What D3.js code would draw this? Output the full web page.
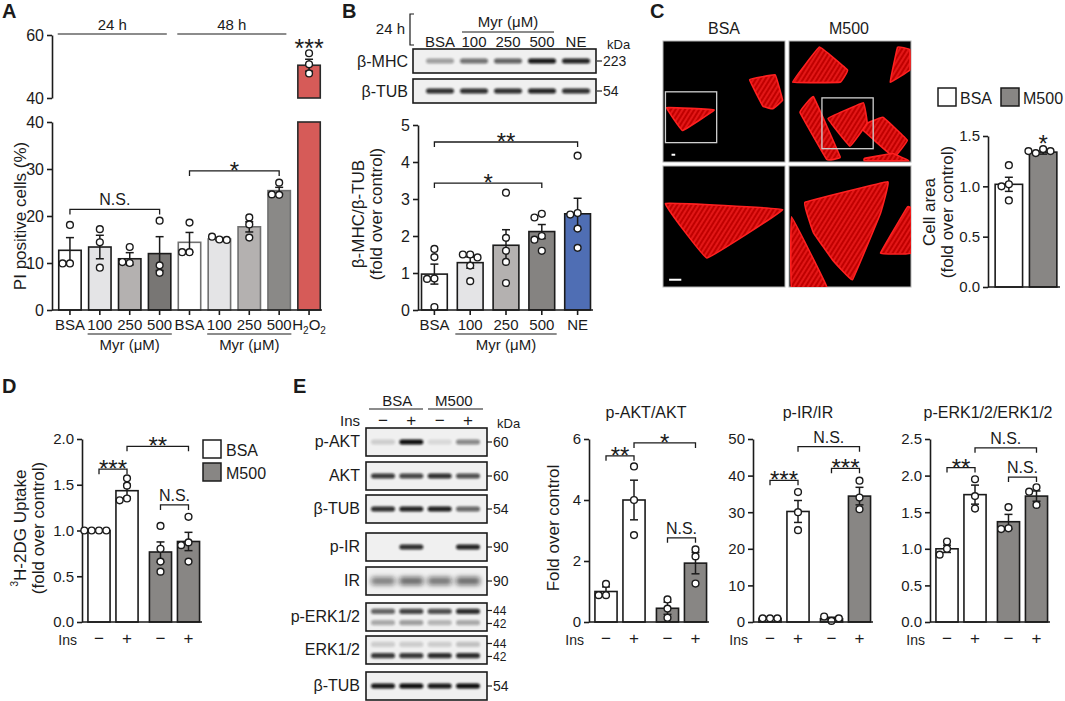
<!DOCTYPE html>
<html>
<head>
<meta charset="utf-8">
<script src="https://cdn.jsdelivr.net/npm/d3@7"></script>
<style>
  body { margin: 0; background: #fff; }
  text { font-family: "Liberation Sans", Arial, sans-serif; }
</style>
</head>
<body>
<svg id="fig" width="1065" height="701"></svg>
<script>
// ---- A: PI positive cells (%) ----
const aCats = ["BSA", "100", "250", "500", "BSA", "100", "250", "500", "H2O2"];
const aMeans = [12.7, 13.4, 10.9, 12.0, 14.4, 15.1, 17.7, 25.4, 50.4];
const aErr = [2.7, 2.5, 1.3, 3.6, 2.1, 0.3, 1.1, 0.7, 1.9];
const aDots = [[18.1, 9.9, 9.9], [17.2, 14.4, 9.0], [13.4, 10.0, 10.2], [19.0, 9.5, 7.9],
  [18.6, 12.3, 12.3], [15.0, 15.6, 14.9], [19.7, 18.2, 15.4], [27.1, 24.5, 24.6], [54.2, 50.7, 47.8]];
const aTimes = ["24 h", "48 h"];

// ---- B: beta-MHC blot + quantification ----
const bCats = ["BSA", "100", "250", "500", "NE"];
const bMeans = [0.97, 1.28, 1.75, 2.12, 2.6];
const bErr = [0.27, 0.15, 0.42, 0.19, 0.42];
const bDots = [[1.65, 1.43, 0.85, 0.84, 0.08], [1.5, 1.5, 1.42, 1.2, 0.78], [3.17, 1.95, 1.6, 1.3, 0.73],
  [2.6, 2.5, 2.0, 1.9, 1.6], [4.17, 2.62, 2.58, 2.2, 1.68]];
const bMhcBands = [0.35, 0.55, 0.62, 0.95, 0.9];
const bTubBands = [0.85, 0.85, 0.85, 0.9, 0.85];

// ---- C: cell area ----
const cCats = ["BSA", "M500"];
const cMeans = [1.02, 1.34];
const cErr = [0.07, 0.02];
const cDots = [[1.21, 1.02, 1.0, 0.86], [1.37, 1.33, 1.35, 1.35]];

// ---- D / E: insulin experiments ----
const insGroups = ["BSA", "M500"];
const insLevels = ["\u2212", "+"];
const dMeans = [1.0, 1.435, 0.765, 0.88];
const dErr = [0.005, 0.07, 0.11, 0.1];
const dDots = [[1, 1, 1, 1], [1.57, 1.49, 1.35, 1.33], [1.05, 0.8, 0.66, 0.55], [1.15, 0.87, 0.84, 0.66]];

const eAktMeans = [1.0, 4.0, 0.45, 1.93];
const eAktErr = [0.15, 0.65, 0.2, 0.35];
const eAktDots = [[1.25, 0.88, 0.88], [5.1, 4.0, 2.85], [0.74, 0.44, 0.14], [2.38, 2.15, 1.26]];
const eIrMeans = [1.0, 30.2, 0.9, 34.4];
const eIrErr = [0.1, 3.0, 0.4, 2.4];
const eIrDots = [[1, 1, 1], [35.5, 30.0, 25.1], [0.3, 1.5, 1.0], [38.6, 34.0, 30.8]];
const eErkMeans = [1.0, 1.74, 1.37, 1.72];
const eErkErr = [0.05, 0.13, 0.1, 0.07];
const eErkDots = [[1.1, 1.0, 0.92], [1.95, 1.72, 1.55], [1.57, 1.28, 1.27], [1.84, 1.78, 1.6]];

const eBlotRows = ["p-AKT", "AKT", "\u03b2-TUB", "p-IR", "IR", "p-ERK1/2", "ERK1/2", "\u03b2-TUB"];
const eBlotKda = [["60"], ["60"], ["54"], ["90"], ["90"], ["44", "42"], ["44", "42"], ["54"]];
const eBands = [
  [[0.15, 1.0, 0.1, 0.45]],
  [[0.8, 0.75, 0.85, 0.7]],
  [[0.85, 0.9, 0.92, 0.6]],
  [[0, 0.85, 0, 0.9]],
  [[0.5, 0.6, 0.55, 0.6]],
  [[0.6, 0.75, 0.7, 0.85], [0.3, 0.35, 0.25, 0.3]],
  [[0.15, 0.15, 0.15, 0.2], [0.8, 0.8, 0.85, 0.85]],
  [[0.95, 1, 0.95, 1]]
];

const svg = d3.select("#fig");
const INK = "#1b1b1b";
const GRAY = "#888684";
const TICK = 15;

const defs = svg.append("defs");
defs.append("filter").attr("id", "blur").attr("x", "-50%").attr("y", "-150%").attr("width", "200%").attr("height", "400%")
  .append("feGaussianBlur").attr("stdDeviation", 1.3);
defs.append("filter").attr("id", "blur2").attr("x", "-50%").attr("y", "-150%").attr("width", "200%").attr("height", "400%")
  .append("feGaussianBlur").attr("stdDeviation", 2.6);
const pat = defs.append("pattern").attr("id", "actin").attr("width", 4).attr("height", 4)
  .attr("patternUnits", "userSpaceOnUse").attr("patternTransform", "rotate(32)");
pat.append("rect").attr("width", 4).attr("height", 4).attr("fill", "#c00000");
pat.append("line").attr("x1", 1).attr("y1", 0).attr("x2", 1).attr("y2", 4).attr("stroke", "#ff2a2a").attr("stroke-width", 1.1);

function txt(g, x, y, t, size = 15, anchor = "middle") {
  return g.append("text").attr("x", x).attr("y", y).attr("font-size", size)
    .attr("text-anchor", anchor).attr("fill", INK).text(t);
}
function vtxt(g, x, y, t, size = 17) {
  return g.append("text").attr("transform", `translate(${x},${y}) rotate(-90)`)
    .attr("text-anchor", "middle").attr("dominant-baseline", "central")
    .attr("font-size", size).attr("fill", INK).text(t);
}
function styleAxis(a, size = TICK) {
  a.attr("font-family", null).attr("font-size", null);
  a.select(".domain").attr("stroke", INK).attr("stroke-width", 1.6);
  a.selectAll(".tick line").attr("stroke", INK).attr("stroke-width", 1.6);
  a.selectAll(".tick text").attr("font-size", size).attr("fill", INK);
  return a;
}
function line(g, x1, y1, x2, y2, w = 1.6, c = INK) {
  g.append("line").attr("x1", x1).attr("y1", y1).attr("x2", x2).attr("y2", y2)
    .attr("stroke", c).attr("stroke-width", w);
}
// spread dots sideways when they would overlap
function swarm(vals, y, r) {
  const placed = [];
  return vals.map(v => {
    const py = y(v);
    for (const k of [0, -1, 1, -2, 2]) {
      const dx = k * r * 2.1;
      if (placed.every(p => Math.hypot(p.dx - dx, p.py - py) >= r * 1.9)) {
        placed.push({ dx, py });
        return { dx, py };
      }
    }
    placed.push({ dx: 0, py });
    return { dx: 0, py };
  });
}
function errDots(g, cx, y, m, e, dots) {
  line(g, cx, y(m - e), cx, y(m + e), 1.5);
  line(g, cx - 4, y(m + e), cx + 4, y(m + e), 1.5);
  line(g, cx - 4, y(m - e), cx + 4, y(m - e), 1.5);
  swarm(dots, y, 3.5).forEach(p => {
    g.append("circle").attr("cx", cx + p.dx).attr("cy", p.py).attr("r", 3.4)
      .attr("fill", "#fff").attr("stroke", INK).attr("stroke-width", 1.4);
  });
}
function bar(g, cx, w, y0, y1, fill, stroke) {
  g.append("rect").attr("x", cx - w / 2).attr("width", w).attr("y", y1).attr("height", y0 - y1)
    .attr("fill", fill).attr("stroke", stroke).attr("stroke-width", 1.6);
}
function bracket(g, x1, x2, yy, lab) {
  g.append("path").attr("d", `M${x1},${yy + 5}V${yy}H${x2}V${yy + 5}`)
    .attr("fill", "none").attr("stroke", INK).attr("stroke-width", 1.3);
  const star = lab.startsWith("*");
  txt(g, (x1 + x2) / 2, star ? yy + 8 : yy - 4, lab, star ? 24 : 16);
}
function panelLetter(x, y, t) {
  txt(svg, x, y, t, 20, "start").attr("font-weight", "bold");
}

// ================= A =================
const gA = svg.append("g");
panelLetter(2, 18, "A");
const xA = d3.scaleBand().domain(d3.range(aCats.length)).range([55, 324]).paddingInner(0.25).paddingOuter(0.125);
const yAlo = d3.scaleLinear().domain([0, 40]).range([310, 122]);
const yAhi = d3.scaleLinear().domain([40, 60]).range([98, 35]);
const cA = i => xA(i) + xA.bandwidth() / 2;
const aFill = ["#ffffff", "#e4e4e6", "#b4b1b0", "#787674", "#ffffff", "#e4e4e6", "#b4b1b0", "#8a8987", "#d65b58"];
const aStroke = [INK, INK, INK, INK, "#707070", "#707070", "#707070", "#707070", "#2a2a2a"];

styleAxis(gA.append("g").attr("transform", "translate(52,0)")
  .call(d3.axisLeft(yAlo).ticks(4).tickSize(5).tickSizeOuter(0).tickPadding(3)), 16);
styleAxis(gA.append("g").attr("transform", "translate(52,0)")
  .call(d3.axisLeft(yAhi).tickValues([40, 60]).tickSize(5).tickSizeOuter(0).tickPadding(3)), 16);
const axA = gA.append("g").attr("transform", "translate(0,310)")
  .call(d3.axisBottom(xA).tickSize(5).tickPadding(4).tickFormat(i => aCats[i]));
styleAxis(axA, 15);
axA.select(".domain").remove();
axA.selectAll(".tick text").filter(i => aCats[i] === "H2O2").text(null).each(function () {
  const t = d3.select(this);
  t.append("tspan").text("H");
  t.append("tspan").attr("font-size", 10).attr("dy", 4).text("2");
  t.append("tspan").attr("dy", -4).text("O");
  t.append("tspan").attr("font-size", 10).attr("dy", 4).text("2");
});

aMeans.forEach((m, i) => {
  const w = xA.bandwidth();
  if (aCats[i] === "H2O2") {
    bar(gA, cA(i), w, yAlo(0), yAlo(40), aFill[i], aStroke[i]);
    bar(gA, cA(i), w, yAhi(40), yAhi(m), aFill[i], aStroke[i]);
    errDots(gA, cA(i), yAhi, m, aErr[i], aDots[i]);
  } else {
    bar(gA, cA(i), w, yAlo(0), yAlo(m), aFill[i], aStroke[i]);
    errDots(gA, cA(i), yAlo, m, aErr[i], aDots[i]);
  }
});
line(gA, 52, 310, 322, 310);
// Myr underlines + group labels
[[1, 3], [5, 7]].forEach(([s, e]) => {
  line(gA, xA(s) - 1, 334, xA(e) + xA.bandwidth() + 1, 334, 1.2);
  txt(gA, (xA(s) + xA(e) + xA.bandwidth()) / 2, 350, "Myr (\u03bcM)", 15);
});
[[0, 3], [4, 7]].forEach(([s, e], k) => {
  const x1 = xA(s) - 1, x2 = xA(e) + xA.bandwidth() - 4;
  line(gA, x1, 34, x2, 34, 1.2);
  txt(gA, (x1 + x2) / 2, 30, aTimes[k], 15);
});
bracket(gA, cA(0), cA(3), yAlo(21.4), "N.S.");
bracket(gA, cA(4), cA(7), yAlo(29.6), "*");
txt(gA, cA(8), 57, "***", 25);
vtxt(gA, 20, 216, "PI positive cells (%)", 17);

// ================= B =================
const gB = svg.append("g");
panelLetter(342, 18, "B");
const lanesB = d3.scalePoint().domain(bCats).range([440, 576]);
txt(gB, 405, 34, "24 h", 15, "end");
gB.append("path").attr("d", "M414,14H410V45H414").attr("fill", "none").attr("stroke", INK).attr("stroke-width", 1.2);
bCats.forEach(c => txt(gB, lanesB(c), 47, c, 15));
line(gB, lanesB("100") - 12, 32, lanesB("500") + 12, 32, 1.2);
txt(gB, (lanesB("100") + lanesB("500")) / 2, 27, "Myr (\u03bcM)", 15);
txt(gB, 607, 49, "kDa", 13, "start");

function blot(g, x0, x1, y0, y1, lanes, rows, bw, soft) {
  g.append("rect").attr("x", x0).attr("y", y0).attr("width", x1 - x0).attr("height", y1 - y0)
    .attr("fill", "#f0f0f0").attr("stroke", INK).attr("stroke-width", 1.6);
  const yb = d3.scaleLinear().domain([0, 1]).range([y0, y1]);
  rows.forEach((vals, r) => {
    const yy = rows.length === 1 ? yb(0.5) : yb(r === 0 ? 0.3 : 0.7);
    vals.forEach((v, k) => {
      if (v <= 0) return;
      g.append("rect").attr("x", lanes(lanes.domain()[k]) - bw / 2).attr("width", bw)
        .attr("y", yy - (soft ? 4 : 2.6)).attr("height", soft ? 8 : 5.2).attr("rx", 2.5)
        .attr("fill", "#0d0d0d").attr("opacity", v)
        .attr("filter", soft ? "url(#blur2)" : "url(#blur)");
    });
  });
}
function kda(g, x, yy, t, size = 14) {
  line(g, x, yy, x + 5, yy, 1.2);
  txt(g, x + 6, yy + size * 0.36, t, size, "start");
}
blot(gB, 413, 596, 49, 73, lanesB, [bMhcBands], 28, false);
blot(gB, 413, 596, 79, 103, lanesB, [bTubBands], 28, false);
txt(gB, 408, 67, "\u03b2-MHC", 16, "end");
txt(gB, 408, 97, "\u03b2-TUB", 16, "end");
kda(gB, 597, 61, "223");
kda(gB, 597, 91, "54");

const xB = d3.scaleBand().domain(bCats).range([419, 593]).paddingInner(0.28).paddingOuter(0.07);
const yB = d3.scaleLinear().domain([0, 5]).range([310, 125]);
const cB = c => xB(c) + xB.bandwidth() / 2;
const bFill = ["#ffffff", "#e4e4e6", "#b4b1b0", "#858381", "#4f6eb4"];
styleAxis(gB.append("g").attr("transform", "translate(418,0)")
  .call(d3.axisLeft(yB).ticks(5).tickSize(5).tickSizeOuter(0).tickPadding(3)), 16);
const axB = gB.append("g").attr("transform", "translate(0,310)")
  .call(d3.axisBottom(xB).tickSize(5).tickPadding(4));
styleAxis(axB, 15);
axB.select(".domain").remove();
bCats.forEach((c, i) => {
  bar(gB, cB(c), xB.bandwidth(), yB(0), yB(bMeans[i]), bFill[i], INK);
  errDots(gB, cB(c), yB, bMeans[i], bErr[i], bDots[i]);
});
line(gB, 418, 310, 593, 310);
line(gB, xB("100") - 2, 334, xB("500") + xB.bandwidth() + 2, 334, 1.2);
txt(gB, (xB("100") + xB("500") + xB.bandwidth()) / 2, 350, "Myr (\u03bcM)", 15);
bracket(gB, cB("BSA"), cB("500"), yB(3.43), "*");
bracket(gB, cB("BSA"), cB("NE"), yB(4.54), "**");
vtxt(gB, 358, 214, "\u03b2-MHC/\u03b2-TUB", 17);
vtxt(gB, 376, 214, "(fold over control)", 17);

// ================= C =================
const gC = svg.append("g");
panelLetter(650, 18, "C");
txt(gC, 724, 34, "BSA", 16);
txt(gC, 849, 34, "M500", 16);
const frames = [[663, 41], [789, 41], [663, 166], [789, 166]];
// cell outlines, in fractions of each image frame
const cellShapes = [
  [[[0.03, 0.55], [0.42, 0.57], [0.16, 0.74]],
   [[0.71, 0.32], [0.92, 0.28], [0.98, 0.49], [0.9, 0.56], [0.82, 0.54]]],
  [[[0.03, 0.34], [0.25, 0.05], [0.48, 0.24], [0.42, 0.34]],
   [[0.83, 0.34], [0.89, 0.05], [0.99, 0.07], [0.99, 0.24]],
   [[0.09, 0.59], [0.2, 0.46], [0.42, 0.96], [0.31, 0.98]],
   [[0.58, 0.71], [0.77, 0.63], [0.97, 0.82], [0.86, 0.96]],
   [[0.32, 0.64], [0.61, 0.51], [0.64, 0.68], [0.5, 0.87]],
   [[0.62, 0.97], [0.85, 0.93], [0.98, 0.99], [0.62, 0.99]]],
  [[[0.02, 0.31], [0.98, 0.36], [0.36, 0.76]]],
  [[[0.02, 0.42], [0.31, 1.0], [0.02, 1.0]],
   [[0.75, 0.72], [0.97, 0.34], [1.0, 0.35], [1.0, 0.72]],
   [[0.13, 0.3], [0.81, 0.13], [0.75, 0.39], [0.52, 0.94], [0.36, 0.78], [0.2, 0.55]]]
];
const insets = [[0.02, 0.42, 0.44, 0.84], [0.27, 0.47, 0.69, 0.89], null, null];
const scaleBars = [[0.07, 0.1, 0.94], null, [0.05, 0.15, 0.94], null];
frames.forEach(([fx, fy], k) => {
  const sx = d3.scaleLinear().domain([0, 1]).range([fx, fx + 122]);
  const sy = d3.scaleLinear().domain([0, 1]).range([fy, fy + 121]);
  const fg = gC.append("g");
  fg.append("clipPath").attr("id", "clip" + k).append("rect")
    .attr("x", fx).attr("y", fy).attr("width", 122).attr("height", 121);
  fg.append("rect").attr("x", fx).attr("y", fy).attr("width", 122).attr("height", 121)
    .attr("fill", "#000").attr("stroke", "#b5b5b5").attr("stroke-width", 1);
  const cl = fg.append("g").attr("clip-path", `url(#clip${k})`);
  const path = d3.line().x(p => sx(p[0])).y(p => sy(p[1])).curve(d3.curveCardinalClosed.tension(0.85));
  cellShapes[k].forEach(s => {
    cl.append("path").attr("d", path(s)).attr("fill", "url(#actin)")
      .attr("stroke", "#ff2020").attr("stroke-width", 1.6).attr("stroke-linejoin", "round");
  });
  if (insets[k]) {
    const [a, b, c, d] = insets[k];
    fg.append("rect").attr("x", sx(a)).attr("y", sy(b)).attr("width", sx(c) - sx(a)).attr("height", sy(d) - sy(b))
      .attr("fill", "none").attr("stroke", "#d0d0d0").attr("stroke-width", 1.3);
  }
  if (scaleBars[k]) {
    const [a, b, c] = scaleBars[k];
    line(fg, sx(a), sy(c), sx(b), sy(c), 2, "#fff");
  }
});

// legend
gC.append("rect").attr("x", 938).attr("y", 88).attr("width", 18).attr("height", 18)
  .attr("fill", "#fff").attr("stroke", INK).attr("stroke-width", 1.5);
txt(gC, 960, 104, "BSA", 16, "start");
gC.append("rect").attr("x", 1001).attr("y", 88).attr("width", 18).attr("height", 18)
  .attr("fill", GRAY).attr("stroke", INK).attr("stroke-width", 1.5);
txt(gC, 1023, 104, "M500", 16, "start");

const xC = d3.scaleBand().domain(cCats).range([990, 1062]).paddingInner(0.2).paddingOuter(0.15);
const yC = d3.scaleLinear().domain([0, 1.5]).range([287, 136]);
const cC = c => xC(c) + xC.bandwidth() / 2;
styleAxis(gC.append("g").attr("transform", "translate(988,0)")
  .call(d3.axisLeft(yC).ticks(3).tickFormat(d3.format(".1f")).tickSize(5).tickSizeOuter(0).tickPadding(3)));
cCats.forEach((c, i) => {
  bar(gC, cC(c), xC.bandwidth(), yC(0), yC(cMeans[i]), i ? GRAY : "#fff", INK);
  errDots(gC, cC(c), yC, cMeans[i], cErr[i], cDots[i]);
});
line(gC, 988, 287, 1060, 287);
txt(gC, cC("M500"), 152, "*", 24);
vtxt(gC, 929, 212, "Cell area", 17);
vtxt(gC, 947, 212, "(fold over control)", 17);

// ================= D & E charts =================
function insChart(g, o) {
  const ax = o.ax;
  const y = d3.scaleLinear().domain(o.domain).range([622, 439]);
  const outer = d3.scaleBand().domain(insGroups).range([ax + 3, ax + 120.5]).paddingInner(0.089);
  const inner = d3.scaleBand().domain(insLevels).range([0, outer.bandwidth()]);
  const cx = i => outer(insGroups[i >> 1]) + inner(insLevels[i & 1]) + inner.bandwidth() / 2;
  const w = inner.bandwidth() * 0.79;
  styleAxis(g.append("g").attr("transform", `translate(${ax},0)`)
    .call(d3.axisLeft(y).tickValues(o.ticks).tickFormat(d3.format(o.fmt)).tickSize(5).tickSizeOuter(0).tickPadding(3)));
  o.means.forEach((m, i) => {
    bar(g, cx(i), w, y(0), y(m), i < 2 ? "#fff" : GRAY, INK);
    errDots(g, cx(i), y, m, o.errs[i], o.dots[i]);
  });
  line(g, ax, 622, ax + 120, 622);
  o.brackets.forEach(([a, b, v, lab]) => bracket(g, cx(a), cx(b), y(v), lab));
  txt(g, ax - 5, 645, "Ins", 14, "end");
  o.means.forEach((m, i) => txt(g, cx(i), 644, insLevels[i & 1], 17));
  if (o.title) txt(g, o.titleX, 418, o.title, 16);
}

const gD = svg.append("g");
panelLetter(2, 393, "D");
insChart(gD, {
  ax: 82, domain: [0, 2], ticks: [0, 0.5, 1, 1.5, 2], fmt: ".1f",
  means: dMeans, errs: dErr, dots: dDots,
  brackets: [[0, 1, 1.67, "***"], [1, 3, 1.92, "**"], [2, 3, 1.28, "N.S."]]
});
gD.append("rect").attr("x", 203).attr("y", 440).attr("width", 18).attr("height", 18)
  .attr("fill", "#fff").attr("stroke", INK).attr("stroke-width", 1.5);
txt(gD, 226, 456, "BSA", 16, "start");
gD.append("rect").attr("x", 203).attr("y", 463).attr("width", 18).attr("height", 18)
  .attr("fill", GRAY).attr("stroke", INK).attr("stroke-width", 1.5);
txt(gD, 226, 479, "M500", 16, "start");
const dl = vtxt(gD, 20, 528, "", 17);
dl.append("tspan").attr("font-size", 10).attr("dy", -6).text("3");
dl.append("tspan").attr("dy", 6).text("H-2DG Uptake");
vtxt(gD, 38, 528, "(fold over control)", 17);

const gE = svg.append("g");
panelLetter(293, 393, "E");
// blots
const lanesE = d3.scalePoint().domain(d3.range(4)).range([383, 468]);
txt(gE, (lanesE(0) + lanesE(1)) / 2, 406, "BSA", 15);
txt(gE, (lanesE(2) + lanesE(3)) / 2, 406, "M500", 15);
line(gE, 369, 409, 423, 409, 1.2);
line(gE, 428, 409, 483, 409, 1.2);
d3.range(4).forEach(k => txt(gE, lanesE(k), 426, insLevels[k & 1], 17));
txt(gE, 360, 426, "Ins", 15, "end");
txt(gE, 497, 428, "kDa", 13, "start");
const rowTops = [428, 462, 495, 533, 567, 603, 636, 672];
eBlotRows.forEach((name, r) => {
  const y0 = rowTops[r], y1 = y0 + 28;
  blot(gE, 366, 487, y0, y1, lanesE, eBands[r], 24, name === "IR");
  txt(gE, 360, y0 + 19, name, 16, "end");
  const two = eBlotKda[r].length === 2;
  const ys = two ? [y0 + 7.5, y0 + 20.5] : [y0 + 14];
  eBlotKda[r].forEach((t, k) => kda(gE, 487, ys[k], t, two ? 12 : 14));
});

insChart(gE, {
  ax: 589, domain: [0, 6], ticks: [0, 2, 4, 6], fmt: "d",
  means: eAktMeans, errs: eAktErr, dots: eAktDots, title: "p-AKT/AKT", titleX: 646,
  brackets: [[0, 1, 5.45, "**"], [1, 3, 5.87, "*"], [2, 3, 2.76, "N.S."]]
});
vtxt(gE, 553, 528, "Fold over control", 17);
insChart(gE, {
  ax: 753, domain: [0, 50], ticks: [0, 10, 20, 30, 40, 50], fmt: "d",
  means: eIrMeans, errs: eIrErr, dots: eIrDots, title: "p-IR/IR", titleX: 808,
  brackets: [[0, 1, 38.7, "***"], [1, 3, 47.9, "N.S."], [2, 3, 42.0, "***"]]
});
insChart(gE, {
  ax: 930, domain: [0, 2.5], ticks: [0, 0.5, 1, 1.5, 2, 2.5], fmt: ".1f",
  means: eErkMeans, errs: eErkErr, dots: eErkDots, title: "p-ERK1/2/ERK1/2", titleX: 988,
  brackets: [[0, 1, 2.11, "**"], [1, 3, 2.38, "N.S."], [2, 3, 1.98, "N.S."]]
});
</script>
</body>
</html>
